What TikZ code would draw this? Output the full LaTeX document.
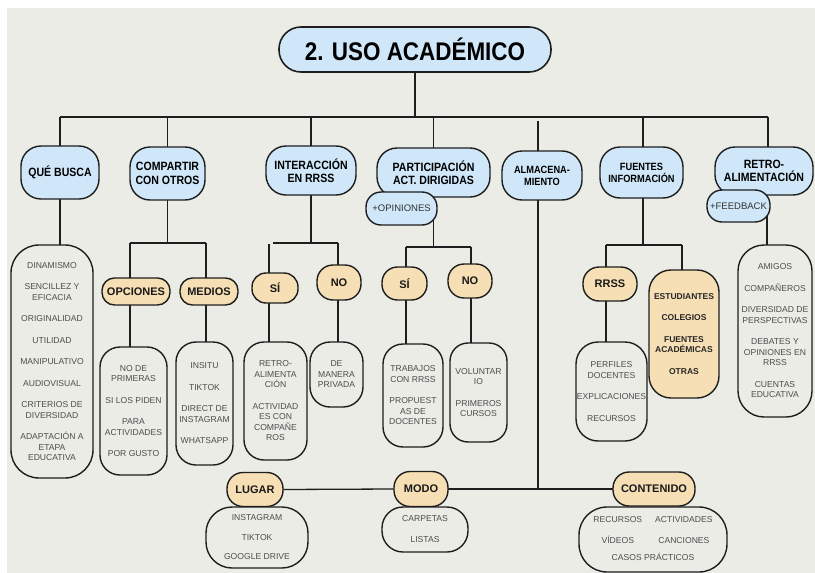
\documentclass[tikz,border=0pt]{standalone}
\usepackage{fontspec}
\setmainfont{Liberation Sans}
\newfontfamily\condfont{Liberation Sans}[FakeStretch=0.88]

\definecolor{paperbg}{HTML}{ECECE7}
\definecolor{skyfill}{HTML}{CFE7F8}
\definecolor{sandfill}{HTML}{F6DFB4}
\definecolor{inkline}{HTML}{1E1E1E}
\definecolor{itemgray}{HTML}{4D4D4D}

\pgfdeclarelayer{paperlayer}
\pgfdeclarelayer{wirelayer}
\pgfsetlayers{paperlayer,wirelayer,main}

\newcommand\nxt{\\[11pt]}

\tikzset{
  every node/.style={inner sep=0pt, outer sep=0pt},
  wire/.style={draw=inkline, line width=1.3pt},
  titlebox/.style={draw=inkline, line width=1.6pt, fill=skyfill, rounded corners=22pt,
    font=\condfont\bfseries\fontsize{25.5}{28}\selectfont},
  headbox/.style={draw=inkline, line width=1.4pt, fill=skyfill, align=center,
    rounded corners=20pt, font=\condfont\bfseries\fontsize{12}{13.5}\selectfont},
  smallhead/.style={headbox, font=\condfont\bfseries\fontsize{10.5}{12}\selectfont},
  tagbox/.style={draw=inkline, line width=1.4pt, fill=skyfill, rounded corners=15pt,
    text=black!80, font=\fontsize{9.5}{11}\selectfont},
  sandbox/.style={draw=inkline, line width=1.4pt, fill=sandfill,
    text=black!90, font=\bfseries\fontsize{11}{13}\selectfont},
  listbox/.style={draw=inkline, line width=1.4pt, fill=paperbg, align=center,
    rounded corners=20pt, text=itemgray, font=\fontsize{8.6}{10.5}\selectfont},
  sandlist/.style={listbox, fill=sandfill, text=black!85,
    font=\bfseries\fontsize{8.5}{10.5}\selectfont},
}

\begin{document}
\begin{tikzpicture}[x=1pt,y=-1pt]
\useasboundingbox (0,0) rectangle (815,573);

% paper
\begin{pgfonlayer}{paperlayer}
  \fill[white] (0,0) rectangle (815,573);
  \fill[paperbg] (7,8) rectangle (815,573);
\end{pgfonlayer}

% title and first level
\node[titlebox, minimum width=272pt, minimum height=45pt] (title) at (415,49.5) {2. USO ACADÉMICO};

\node[headbox, minimum width=78pt, minimum height=53pt] (qb) at (60,172.5) {QUÉ BUSCA};
\node[headbox, minimum width=75pt, minimum height=53pt] (comp) at (167.5,173.5) {COMPARTIR\\CON OTROS};
\node[headbox, minimum width=90pt, minimum height=49pt] (inter) at (311,170.5) {INTERACCIÓN\\EN RRSS};
\node[headbox, minimum width=113pt, minimum height=49pt] (part) at (433.5,172.5) {PARTICIPACIÓN\\ACT. DIRIGIDAS};
\node[smallhead, minimum width=80pt, minimum height=49pt] (alm) at (542,175.5) {ALMACENA-\\MIENTO};
\node[smallhead, minimum width=83pt, minimum height=51pt] (fuen) at (641.5,172.5) {FUENTES\\INFORMACIÓN};
\node[headbox, minimum width=98pt, minimum height=48pt] (retro) at (764,171) {RETRO-\\ALIMENTACIÓN};

\node[tagbox, minimum width=71pt, minimum height=33pt] (opin) at (401.5,208.5) {+OPINIONES};
\node[tagbox, minimum width=63pt, minimum height=32pt] (feed) at (738.5,206) {+FEEDBACK};

% second level
\node[sandbox, minimum width=68pt, minimum height=27pt, rounded corners=12.5pt] (opc) at (136,291.5) {OPCIONES};
\node[sandbox, minimum width=58pt, minimum height=27pt, rounded corners=12.5pt] (med) at (209,291.5) {MEDIOS};
\node[sandbox, minimum width=46pt, minimum height=30pt, rounded corners=14pt] (isi) at (275,288) {SÍ};
\node[sandbox, minimum width=44pt, minimum height=35pt, rounded corners=16pt] (ino) at (339,282.5) {NO};
\node[sandbox, minimum width=45pt, minimum height=33pt, rounded corners=15.5pt] (psi) at (404.5,283.5) {SÍ};
\node[sandbox, minimum width=44pt, minimum height=34pt, rounded corners=16pt] (pno) at (470,281) {NO};
\node[sandbox, minimum width=54pt, minimum height=34pt, rounded corners=16pt] (rrss) at (610,284) {RRSS};

% lists
\node[listbox, minimum width=82pt, minimum height=233pt, rounded corners=28pt] (qbL) at (52,361.5)
  {DINAMISMO\nxt SENCILLEZ Y\\EFICACIA\nxt ORIGINALIDAD\nxt UTILIDAD\nxt MANIPULATIVO\nxt AUDIOVISUAL\nxt CRITERIOS DE\\DIVERSIDAD\nxt ADAPTACIÓN A\\ETAPA\\EDUCATIVA};
\node[listbox, minimum width=67pt, minimum height=128pt] (opL) at (133.5,411)
  {NO DE\\PRIMERAS\nxt SI LOS PIDEN\nxt PARA\\ACTIVIDADES\nxt POR GUSTO};
\node[listbox, minimum width=57pt, minimum height=123pt] (meL) at (204.5,403.5)
  {INSITU\nxt TIKTOK\nxt DIRECT DE\\INSTAGRAM\nxt WHATSAPP};
\node[listbox, minimum width=63pt, minimum height=118pt] (siL) at (275.5,401)
  {RETRO-\\ALIMENTA\\CIÓN\nxt ACTIVIDAD\\ES CON\\COMPAÑE\\ROS};
\node[listbox, minimum width=53pt, minimum height=65pt] (noL) at (336.5,374.5)
  {DE\\MANERA\\PRIVADA};
\node[listbox, minimum width=60pt, minimum height=103pt] (psiL) at (413,395.5)
  {TRABAJOS\\CON RRSS\nxt PROPUEST\\AS DE\\DOCENTES};
\node[listbox, minimum width=57pt, minimum height=99pt, rounded corners=18pt] (pnoL) at (478.5,392.5)
  {VOLUNTAR\\IO\nxt PRIMEROS\\CURSOS};
\node[listbox, minimum width=71pt, minimum height=99pt, rounded corners=22pt] (rrL) at (611.5,391.5)
  {PERFILES\\DOCENTES\nxt EXPLICACIONES\nxt RECURSOS};
\node[sandlist, minimum width=70pt, minimum height=128pt, rounded corners=22pt] (fuT) at (684,334)
  {ESTUDIANTES\nxt COLEGIOS\nxt FUENTES\\ACADÉMICAS\nxt OTRAS};
\node[listbox, minimum width=74pt, minimum height=172pt, rounded corners=26pt] (reL) at (775,331)
  {AMIGOS\nxt COMPAÑEROS\nxt DIVERSIDAD DE\\PERSPECTIVAS\nxt DEBATES Y\\OPINIONES EN\\RRSS\nxt CUENTAS\\EDUCATIVA};

% storage branch
\node[sandbox, minimum width=56pt, minimum height=34pt, rounded corners=16pt] (lug) at (255,489.5) {LUGAR};
\node[sandbox, minimum width=54pt, minimum height=35pt, rounded corners=16pt] (modo) at (421,489) {MODO};
\node[sandbox, minimum width=82pt, minimum height=34pt, rounded corners=16pt] (cont) at (654,489) {CONTENIDO};

\node[listbox, minimum width=102pt, minimum height=61pt, rounded corners=26pt] (luL) at (257,537.5)
  {INSTAGRAM\\[9pt]TIKTOK\\[9pt]GOOGLE DRIVE};
\node[listbox, minimum width=86pt, minimum height=45pt, rounded corners=21pt] (moL) at (425,529.5)
  {CARPETAS\\[10.5pt]LISTAS};
\node[listbox, minimum width=148pt, minimum height=65pt, rounded corners=28pt] (coL) at (653,539.5)
  {\begin{tabular}{@{}c@{\hspace{13pt}}c@{}}
    RECURSOS & ACTIVIDADES\\[10.5pt]
    VÍDEOS & CANCIONES\\[6.5pt]
    \multicolumn{2}{c}{CASOS PRÁCTICOS}
  \end{tabular}};

% junction points
\coordinate (hub) at (415,117);
\coordinate (barW) at (60,117);
\coordinate (barE) at (768,117);
\coordinate (dComp) at (167.5,117);
\coordinate (dInter) at (311,117);
\coordinate (dPart) at (433.5,117);
\coordinate (dAlm) at (538,121);
\coordinate (dFuen) at (643,117);
\coordinate (jc) at (167.5,243);
\coordinate (jcL) at (130,243);
\coordinate (jcR) at (206,243);
\coordinate (ji) at (311,243);
\coordinate (jiA) at (273,243);
\coordinate (jiL) at (269,244);
\coordinate (jiR) at (338,243);
\coordinate (jp) at (433.5,247);
\coordinate (jpL) at (406,247);
\coordinate (jpR) at (471,247);
\coordinate (jf) at (643,245);
\coordinate (jfL) at (606,245);
\coordinate (jfR) at (682,245);
\coordinate (jr) at (767,205);
\coordinate (jaB) at (538,489);

\begin{pgfonlayer}{wirelayer}
  % trunk and bar
  \draw[wire] (title.south) -- (hub);
  \draw[wire] (barW) -- (barE);
  \draw[wire] (barW) -- (qb.north);
  \draw[wire] (dComp) -- (comp.north);
  \draw[wire] (dInter) -- (inter.north);
  \draw[wire] (dPart) -- (part.north);
  \draw[wire] (dAlm) -- (dAlm |- alm.north);
  \draw[wire] (dFuen) -- (dFuen |- fuen.north);
  \draw[wire] (barE) -- (barE |- retro.north);
  % que busca
  \draw[wire] (qb.south) -- (qb.south |- qbL.north);
  % compartir
  \draw[wire] (comp.south) -- (jc);
  \draw[wire] (jcL) -- (jcR);
  \draw[wire] (jcL) -- (jcL |- opc.north);
  \draw[wire] (jcR) -- (jcR |- med.north);
  \draw[wire] (jcL |- opc.south) -- (jcL |- opL.north);
  \draw[wire] (jcR |- med.south) -- (jcR |- meL.north);
  % interaccion
  \draw[wire] (inter.south) -- (ji);
  \draw[wire] (jiA) -- (jiR);
  \draw[wire] (jiL) -- (jiL |- isi.north);
  \draw[wire] (jiR) -- (jiR |- ino.north);
  \draw[wire] (jiL |- isi.south) -- (jiL |- siL.north);
  \draw[wire] (jiR |- ino.south) -- (jiR |- noL.north);
  % participacion
  \draw[wire] (part.south) -- (jp);
  \draw[wire] (jpL) -- (jpR);
  \draw[wire] (jpL) -- (jpL |- psi.north);
  \draw[wire] (jpR) -- (jpR |- pno.north);
  \draw[wire] (jpL |- psi.south) -- (jpL |- psiL.north);
  \draw[wire] (jpR |- pno.south) -- (jpR |- pnoL.north);
  % almacenamiento
  \draw[wire] (dAlm |- alm.south) -- (jaB);
  \draw[wire] (lug.east) -- (modo.west);
  \draw[wire] (modo.east) -- (cont.west);
  % fuentes
  \draw[wire] (jf |- fuen.south) -- (jf);
  \draw[wire] (jfL) -- (jfR);
  \draw[wire] (jfL) -- (jfL |- rrss.north);
  \draw[wire] (jfR) -- (jfR |- fuT.north);
  \draw[wire] (jfL |- rrss.south) -- (jfL |- rrL.north);
  % retroalimentacion
  \draw[wire] (jr) -- (jr |- reL.north);
\end{pgfonlayer}
\end{tikzpicture}
\end{document}
